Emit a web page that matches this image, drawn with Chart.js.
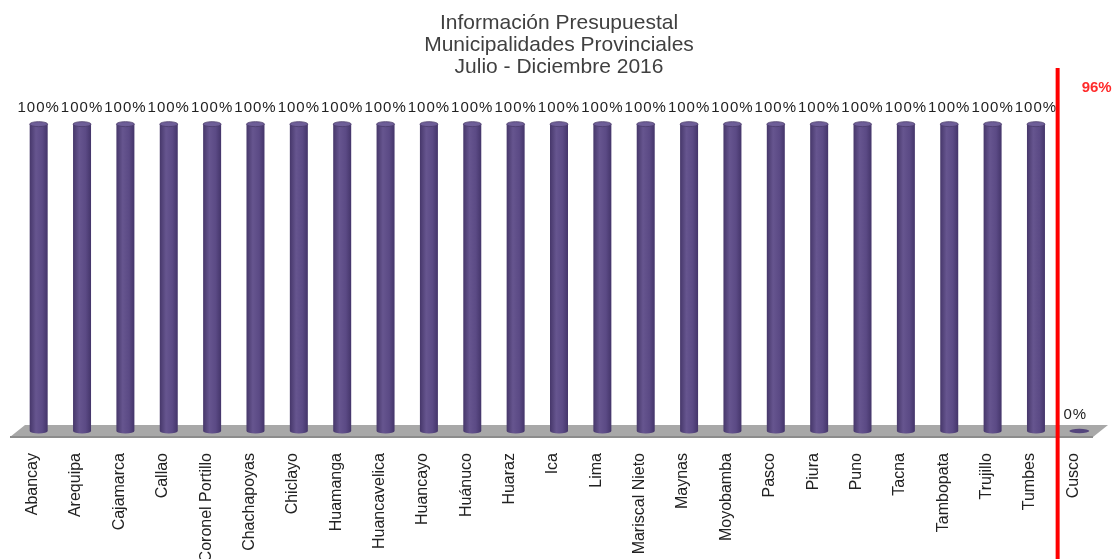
<!DOCTYPE html>
<html>
<head>
<meta charset="utf-8">
<script src="https://cdn.jsdelivr.net/npm/chart.js@4.4.0/dist/chart.umd.min.js"></script>
<style>
  html, body { margin: 0; padding: 0; background: #fff; }
  #wrap { width: 1113px; height: 559px; }
</style>
</head>
<body>
<div id="wrap"><canvas id="chart" width="1113" height="559"></canvas></div>
<script>
// datos del gráfico
const titleLines = ['Información Presupuestal', 'Municipalidades Provinciales', 'Julio - Diciembre 2016'];
const categories = ['Abancay', 'Arequipa', 'Cajamarca', 'Callao', 'Coronel Portillo', 'Chachapoyas', 'Chiclayo',
    'Huamanga', 'Huancavelica', 'Huancayo', 'Huánuco', 'Huaraz', 'Ica', 'Lima', 'Mariscal Nieto', 'Maynas',
    'Moyobamba', 'Pasco', 'Piura', 'Puno', 'Tacna', 'Tambopata', 'Trujillo', 'Tumbes', 'Cusco'];
const values = [100, 100, 100, 100, 100, 100, 100, 100, 100, 100, 100, 100, 100, 100, 100, 100,
    100, 100, 100, 100, 100, 100, 100, 100, 0];
const thresholdLabel = '96%';
const thresholdAfterIndex = 23; // línea roja entre Tumbes y Cusco

const BAR_PCT = 0.415;

// gradiente horizontal para simular cilindro
function barGradient(ctx) {
    const chart = ctx.chart;
    if (!chart.chartArea) return '#5a4984';
    const xs = chart.scales.x;
    const x = xs.getPixelForValue(ctx.dataIndex);
    const w = (xs.right - xs.left) / categories.length * BAR_PCT;
    const g = chart.ctx.createLinearGradient(x - w / 2, 0, x + w / 2, 0);
    g.addColorStop(0, '#46376a');
    g.addColorStop(0.35, '#66558f');
    g.addColorStop(0.7, '#5b4a85');
    g.addColorStop(1, '#44356a');
    return g;
}

// piso gris (base 3D)
const floorPlugin = {
    id: 'floor',
    beforeDatasetsDraw(chart) {
        const { ctx, chartArea } = chart;
        const y0 = chart.scales.y.getPixelForValue(0);
        const l = chartArea.left, r = chartArea.right;
        ctx.save();
        ctx.beginPath();
        ctx.moveTo(l - 7, y0 + 6);
        ctx.lineTo(l + 8, y0 - 6);
        ctx.lineTo(r + 7, y0 - 6);
        ctx.lineTo(r - 8, y0 + 6);
        ctx.closePath();
        ctx.fillStyle = '#a8a8a8';
        ctx.fill();
        ctx.beginPath();
        ctx.moveTo(l - 7, y0 + 6);
        ctx.lineTo(r - 8, y0 + 6);
        ctx.lineWidth = 2;
        ctx.strokeStyle = '#8c8c8c';
        ctx.stroke();
        ctx.restore();
    }
};

// tapas de cilindro y etiquetas de valor
const cylinderPlugin = {
    id: 'cylinder',
    afterDatasetsDraw(chart) {
        const { ctx } = chart;
        const meta = chart.getDatasetMeta(0);
        ctx.save();
        meta.data.forEach((bar, i) => {
            const v = values[i];
            const rx = bar.width / 2;
            if (v > 0) {
                // fondo redondeado
                ctx.beginPath();
                ctx.ellipse(bar.x, bar.base, rx, 2.5, 0, 0, Math.PI);
                ctx.fillStyle = bar.options.backgroundColor;
                ctx.fill();
                // tapa superior
                ctx.beginPath();
                ctx.ellipse(bar.x, bar.y, rx, 2.5, 0, 0, Math.PI * 2);
                ctx.fillStyle = '#6e5e98';
                ctx.fill();
                ctx.lineWidth = 0.8;
                ctx.strokeStyle = '#4a3b6a';
                ctx.stroke();
            } else {
                ctx.beginPath();
                ctx.ellipse(bar.x, bar.base, rx + 1, 2.2, 0, 0, Math.PI * 2);
                ctx.fillStyle = '#54457c';
                ctx.fill();
            }
            ctx.font = '15px "Liberation Sans", Arial, sans-serif';
            ctx.letterSpacing = '1px';
            ctx.fillStyle = '#222';
            ctx.textAlign = 'center';
            ctx.textBaseline = 'middle';
            ctx.fillText(v + '%', bar.x - (v > 0 ? 0 : 4), bar.y - 16);
        });
        ctx.restore();
    }
};

// línea roja de referencia
const thresholdPlugin = {
    id: 'threshold',
    afterDraw(chart) {
        const { ctx } = chart;
        const xs = chart.scales.x;
        const x = (xs.getPixelForValue(thresholdAfterIndex) + xs.getPixelForValue(thresholdAfterIndex + 1)) / 2;
        ctx.save();
        ctx.beginPath();
        ctx.moveTo(x, 68);
        ctx.lineTo(x, chart.height);
        ctx.lineWidth = 4;
        ctx.strokeStyle = '#ff0000';
        ctx.stroke();
        ctx.font = 'bold 15px "Liberation Sans", Arial, sans-serif';
        ctx.fillStyle = '#ff2a2a';
        ctx.textAlign = 'center';
        ctx.textBaseline = 'middle';
        ctx.fillText(thresholdLabel, x + 39, 88);
        ctx.restore();
    }
};

new Chart(document.getElementById('chart').getContext('2d'), {
    type: 'bar',
    data: {
        labels: categories,
        datasets: [{
            data: values,
            backgroundColor: barGradient,
            borderWidth: 0,
            categoryPercentage: 1,
            barPercentage: BAR_PCT
        }]
    },
    options: {
        responsive: false,
        animation: false,
        layout: { padding: { left: 17, right: 12, top: 0, bottom: 0 } },
        plugins: {
            legend: { display: false },
            tooltip: { enabled: false },
            title: {
                display: true,
                text: titleLines,
                color: '#404040',
                font: { family: '"Liberation Sans", Arial, sans-serif', size: 21, weight: 'normal', lineHeight: 1.05 },
                padding: { top: 12, bottom: 46 }
            }
        },
        scales: {
            x: {
                grid: { display: false, drawTicks: false },
                border: { display: false },
                ticks: {
                    autoSkip: false,
                    minRotation: 90,
                    maxRotation: 90,
                    padding: 22,
                    labelOffset: -6,
                    color: '#222',
                    font: { family: '"Liberation Sans", Arial, sans-serif', size: 16 }
                },
                afterFit(scale) {
                    scale.height = 128;
                    scale.paddingLeft = 0;
                    scale.paddingRight = 0;
                }
            },
            y: {
                display: false,
                min: 0,
                max: 100
            }
        }
    },
    plugins: [floorPlugin, cylinderPlugin, thresholdPlugin]
});
</script>
</body>
</html>
